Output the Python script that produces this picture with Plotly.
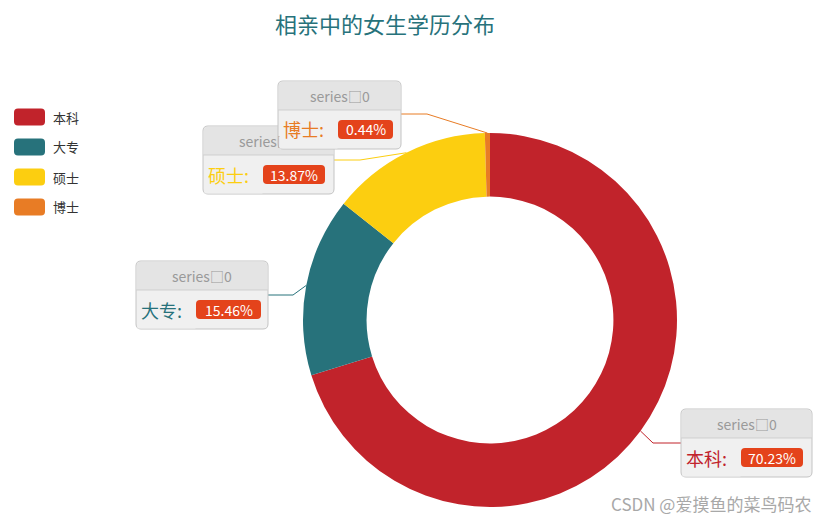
import math
import plotly.graph_objects as go

# ---- data ----
categories = ["本科", "大专", "硕士", "博士"]
percent_values = [70.23, 15.46, 13.87, 0.44]
series_name = "series\u25a10"
title_text = "相亲中的女生学历分布"
watermark = "CSDN @爱摸鱼的菜鸟码农"

# ---- style / layout ----
OFF = 8                      # page body margin
W, H = 828 - OFF, 521 - OFF
colors = ["#c1232b", "#27727b", "#fcce10", "#e87c25"]
title_color = "#27727b"
badge_color = "#e4431b"
head_fill, body_fill, box_line = "#e4e4e4", "#f0f0f0", "#c4c4c4"
CJK = "Noto Sans CJK SC"

cx, cy, R = 490, 320, 187
hole = 0.66

box_left = [681, 136, 203, 278]
box_top = [409, 261, 126, 81]
box_w = [131, 132, 131, 123]
badge_w = [62, 65, 62, 55]
bend_pts = [(653, 443), (293, 295), (360, 160), (427, 114)]
end_pts = [(681, 443), (268, 295), (334, 160), (401, 114)]
HEAD_H, BODY_H = 29, 39

legend_y = [117, 147, 177, 207]


def px(x):
    return (x - OFF) / W


def py(y):
    return 1 - (y - OFF) / H


def rrect(x0, y0, x1, y1, r, top=True, bottom=True):
    rt = r if top else 0
    rb = r if bottom else 0
    p = f"M {px(x0 + rt)} {py(y0)} L {px(x1 - rt)} {py(y0)} "
    p += f"Q {px(x1)} {py(y0)} {px(x1)} {py(y0 + rt)} " if rt else ""
    p += f"L {px(x1)} {py(y1 - rb)} "
    p += f"Q {px(x1)} {py(y1)} {px(x1 - rb)} {py(y1)} " if rb else ""
    p += f"L {px(x0 + rb)} {py(y1)} "
    p += f"Q {px(x0)} {py(y1)} {px(x0)} {py(y1 - rb)} " if rb else ""
    p += f"L {px(x0)} {py(y0 + rt)} "
    p += f"Q {px(x0)} {py(y0)} {px(x0 + rt)} {py(y0)} " if rt else ""
    return p + "Z"


fig = go.Figure()
fig.add_trace(go.Pie(
    labels=categories,
    values=percent_values,
    hole=hole,
    sort=False,
    direction="clockwise",
    rotation=0,
    marker=dict(colors=colors, line=dict(width=0)),
    textinfo="none",
    hoverinfo="label+percent",
    showlegend=False,
    domain=dict(x=[px(cx - R), px(cx + R)], y=[py(cy + R), py(cy - R)]),
))

shapes = []
annotations = []

# leader lines from slice mid-angle on outer edge
total = sum(percent_values)
cum = 0
for i, v in enumerate(percent_values):
    mid = (cum + v / 2) / total * 2 * math.pi
    cum += v
    ex = cx + R * math.sin(mid)
    ey = cy - R * math.cos(mid)
    bx, by = bend_pts[i]
    tx, ty = end_pts[i]
    shapes.append(dict(
        type="path", xref="paper", yref="paper",
        path=f"M {px(ex)} {py(ey)} L {px(bx)} {py(by)} L {px(tx)} {py(ty)}",
        line=dict(color=colors[i], width=1), layer="above"))

# label boxes
for i, cat in enumerate(categories):
    x0, y0, w = box_left[i], box_top[i], box_w[i]
    x1, y1 = x0 + w, y0 + HEAD_H + BODY_H
    ym = y0 + HEAD_H
    shapes.append(dict(type="path", xref="paper", yref="paper",
                       path=rrect(x0, y0, x1, y1, 5), fillcolor=body_fill,
                       line=dict(color=box_line, width=1), layer="above"))
    shapes.append(dict(type="path", xref="paper", yref="paper",
                       path=rrect(x0 + 0.5, y0 + 0.5, x1 - 0.5, ym, 5, bottom=False),
                       fillcolor=head_fill, line=dict(width=0), layer="above"))
    shapes.append(dict(type="line", xref="paper", yref="paper",
                       x0=px(x0), x1=px(x1), y0=py(ym), y1=py(ym),
                       line=dict(color="#cfcfcf", width=1), layer="above"))
    bx0 = x0 + 60
    byc = ym + BODY_H / 2
    shapes.append(dict(type="path", xref="paper", yref="paper",
                       path=rrect(bx0, byc - 9.5, bx0 + badge_w[i], byc + 9.5, 4),
                       fillcolor=badge_color, line=dict(width=0), layer="above"))
    # cover patch so this box hides texts of earlier boxes it overlaps
    annotations.append(dict(
        x=px(x0 + 1), y=py(ym + 1), xref="paper", yref="paper",
        xanchor="left", yanchor="top", showarrow=False,
        text=" ", width=57, height=BODY_H - 3, borderpad=0,
        bgcolor=body_fill, font=dict(family=CJK, size=10)))
    annotations.append(dict(
        x=px(x0 + w / 2), y=py(y0 + HEAD_H / 2 + 0.5), xref="paper", yref="paper",
        xanchor="center", yanchor="middle", showarrow=False,
        text=series_name,
        font=dict(family=CJK, size=14, color="#9a9a9a")))
    annotations.append(dict(
        x=px(x0 + 3), y=py(byc), xref="paper", yref="paper",
        xanchor="left", yanchor="middle", showarrow=False,
        text=cat + ":", font=dict(family=CJK, size=18, color=colors[i])))
    annotations.append(dict(
        x=px(bx0 + badge_w[i] / 2), y=py(byc), xref="paper", yref="paper",
        xanchor="center", yanchor="middle", showarrow=False,
        text=f"{percent_values[i]:.2f}%",
        font=dict(family=CJK, size=14, color="white")))

# custom legend
for i, cat in enumerate(categories):
    y = legend_y[i]
    shapes.append(dict(type="path", xref="paper", yref="paper",
                       path=rrect(14, y - 8.5, 45, y + 8.5, 4),
                       fillcolor=colors[i], line=dict(width=0)))
    annotations.append(dict(
        x=px(51), y=py(y), xref="paper", yref="paper", xanchor="left", yanchor="middle",
        showarrow=False, text=cat, font=dict(family=CJK, size=13, color="#333333")))

# watermark
annotations.append(dict(
    x=px(813), y=py(503), xref="paper", yref="paper", xanchor="right", yanchor="middle",
    showarrow=False, text=watermark, font=dict(family=CJK, size=17, color="#a8a8a8")))

fig.update_layout(
    width=W, height=H,
    margin=dict(l=0, r=0, t=0, b=0),
    paper_bgcolor="white", plot_bgcolor="white",
    title=dict(text=title_text, x=px(385), y=py(25), xanchor="center", yanchor="middle",
               font=dict(family=CJK, size=22, color=title_color)),
    shapes=shapes,
    annotations=annotations,
    showlegend=False,
)

fig.write_html("out.html")
